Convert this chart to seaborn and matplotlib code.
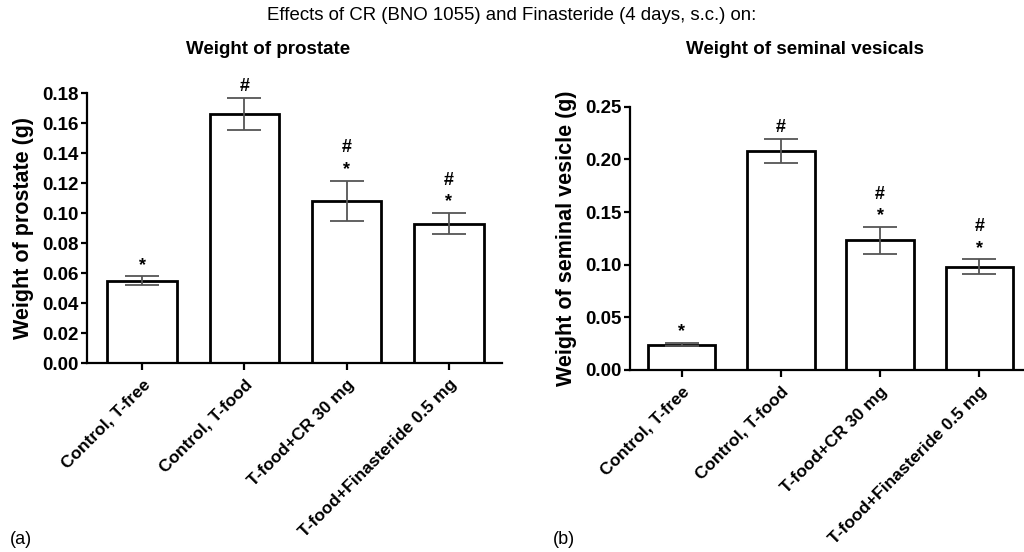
import numpy as np
import pandas as pd
import matplotlib
matplotlib.use("Agg")
import matplotlib.pyplot as plt
import seaborn as sns

groups = ["Control, T-free", "Control, T-food", "T-food+CR 30 mg", "T-food+Finasteride 0.5 mg"]

prostate_mean = [0.055, 0.166, 0.108, 0.093]
prostate_sem = [0.0027, 0.0106, 0.0135, 0.0068]
prostate_marks = ["*", "#", "#\n*", "#\n*"]

vesicle_mean = [0.024, 0.208, 0.123, 0.098]
vesicle_sem = [0.0015, 0.0115, 0.0127, 0.0070]
vesicle_marks = ["*", "#", "#\n*", "#\n*"]

sns.set_style("ticks")
plt.rcParams["font.family"] = ["Liberation Sans", "DejaVu Sans"]
plt.rcParams["text.color"] = "black"
plt.rcParams["axes.labelcolor"] = "black"
plt.rcParams["axes.edgecolor"] = "black"
plt.rcParams["xtick.color"] = "black"
plt.rcParams["ytick.color"] = "black"
plt.rcParams["axes.linewidth"] = 1.6
plt.rcParams["xtick.major.width"] = 1.6
plt.rcParams["ytick.major.width"] = 1.6
plt.rcParams["xtick.major.size"] = 5
plt.rcParams["ytick.major.size"] = 4


def bar_panel(ax, means, sems, marks, ymax, ystep, ylabel, xlim):
    df = pd.DataFrame({"group": groups, "weight": means})
    sns.barplot(data=df, x="group", y="weight", order=groups, ax=ax,
                color="white", edgecolor="black", linewidth=2.0,
                width=0.68, errorbar=None, saturation=1)
    ax.errorbar(np.arange(len(groups)), means, yerr=sems, fmt="none",
                ecolor="#555555", elinewidth=1.3, capsize=12, capthick=1.3, zorder=5)
    for i, (m, s, t) in enumerate(zip(means, sems, marks)):
        ax.annotate(t, xy=(i, m + s), xytext=(0, 2), textcoords="offset points",
                    ha="center", va="bottom", fontsize=13, fontweight="bold",
                    linespacing=1.35)
    ticks = np.arange(0, ymax + ystep / 2, ystep)
    ax.set_ylim(0, ymax)
    ax.set_yticks(ticks)
    ax.set_yticklabels([f"{v:.2f}" for v in ticks], fontsize=13.5, fontweight="bold")
    ax.tick_params(axis="y", pad=2)
    ax.set_xlim(*xlim)
    ax.set_xticks(range(len(groups)))
    ax.set_xticklabels(groups, rotation=45, ha="right", rotation_mode="anchor",
                       fontsize=12.5, fontweight="bold")
    ax.tick_params(axis="x", pad=5)
    ax.set_xlabel("")
    ax.set_ylabel(ylabel, fontsize=15.5, fontweight="bold", labelpad=6)
    sns.despine(ax=ax)


fig = plt.figure(figsize=(10.24, 5.52), dpi=100)
ax1 = fig.add_axes([87 / 1024, 1 - 363 / 552, 415 / 1024, 270 / 552])
ax2 = fig.add_axes([630 / 1024, 1 - 370 / 552, 394 / 1024, 263.3 / 552])

bar_panel(ax1, prostate_mean, prostate_sem, prostate_marks, 0.18, 0.02,
          "Weight of prostate (g)", (-0.54, 3.52))
bar_panel(ax2, vesicle_mean, vesicle_sem, vesicle_marks, 0.25, 0.05,
          "Weight of seminal vesicle (g)", (-0.52, 3.45))

fig.text(0.5, 1 - 15 / 552, "Effects of CR (BNO 1055) and Finasteride (4 days, s.c.) on:",
         ha="center", va="center", fontsize=13.4)
fig.text(268 / 1024, 1 - 50 / 552, "Weight of prostate",
         ha="center", va="center", fontsize=13.5, fontweight="bold")
fig.text(805 / 1024, 1 - 50 / 552, "Weight of seminal vesicals",
         ha="center", va="center", fontsize=13.5, fontweight="bold")
fig.text(10 / 1024, 1 - 540 / 552, "(a)", ha="left", va="center", fontsize=13)
fig.text(553 / 1024, 1 - 540 / 552, "(b)", ha="left", va="center", fontsize=13)

fig.savefig("out.png", dpi=100)
